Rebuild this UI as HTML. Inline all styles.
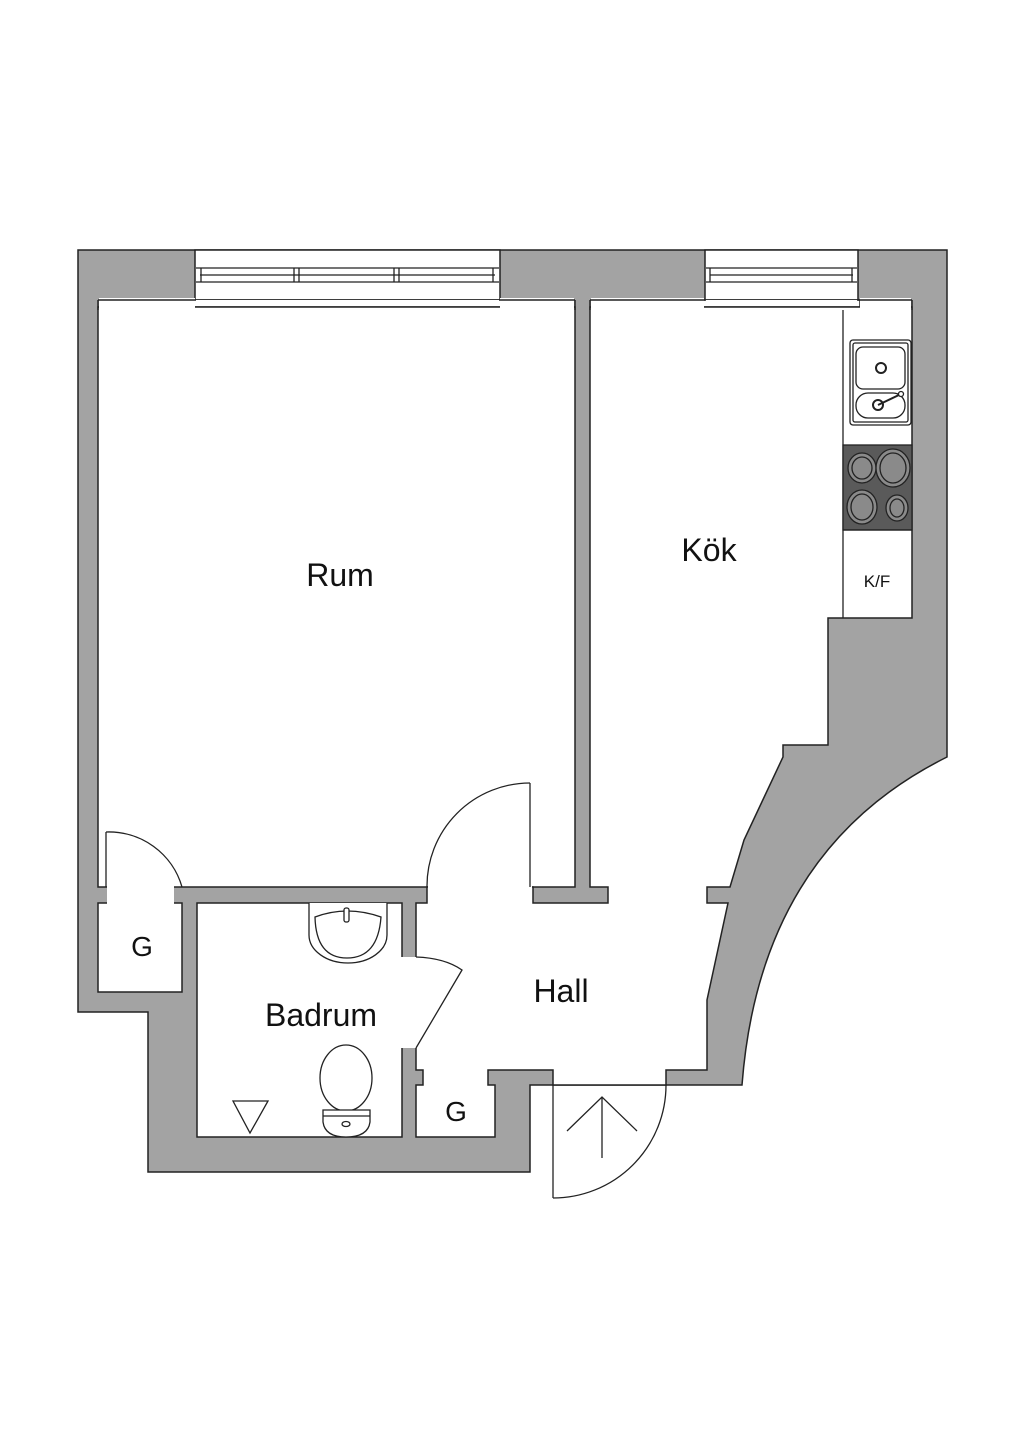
<!DOCTYPE html>
<html><head><meta charset="utf-8"><style>
html,body{margin:0;padding:0;background:#fff;}
svg{display:block;}
text{font-family:"Liberation Sans",sans-serif;fill:#111;}
</style></head><body>
<svg width="1024" height="1449" viewBox="0 0 1024 1449" xmlns="http://www.w3.org/2000/svg">
<rect width="1024" height="1449" fill="#fff"/>
<!-- outer gray -->
<path d="M78 250 H947 V757 Q760 850 742 1085 H553 V1085 H530 V1172 H148 V1012 H78 Z" fill="#a3a3a3" stroke="#222" stroke-width="1.5"/>
<!-- windows -->
<g fill="#fff" stroke="#222" stroke-width="1.5">
<rect x="195" y="250" width="305" height="50"/>
<rect x="193" y="300" width="309" height="7"/>
<rect x="705" y="250" width="153" height="50"/>
<rect x="703" y="300" width="157" height="7"/>
</g>
<rect x="196" y="300" width="303" height="3" fill="#fff"/>
<rect x="706" y="300" width="151" height="3" fill="#fff"/>
<g stroke="#222" stroke-width="1.3" fill="none">
<line x1="196" y1="268" x2="499" y2="268"/><line x1="200" y1="275" x2="495" y2="275"/><line x1="196" y1="282" x2="499" y2="282"/>
<line x1="201" y1="268" x2="201" y2="282"/><line x1="294" y1="268" x2="294" y2="282"/><line x1="299" y1="268" x2="299" y2="282"/>
<line x1="394" y1="268" x2="394" y2="282"/><line x1="399" y1="268" x2="399" y2="282"/><line x1="493" y1="268" x2="493" y2="282"/>
<line x1="706" y1="268" x2="857" y2="268"/><line x1="710" y1="275" x2="853" y2="275"/><line x1="706" y1="282" x2="857" y2="282"/>
<line x1="710" y1="268" x2="710" y2="282"/><line x1="852" y1="268" x2="852" y2="282"/>
</g>
<!-- rooms -->
<g fill="#fff" stroke="#222" stroke-width="1.5">
<rect x="98" y="307" width="477" height="580"/>
<rect x="98" y="903" width="84" height="89"/>
<rect x="197" y="903" width="205" height="234"/>
<polygon points="590,307 912,307 912,618 828,618 828,745 783,745 783,757 744,840 730,887 707,887 707,903 728,903 707,1000 707,1070 666,1070 666,1085 553,1085 553,1070 488,1070 488,1085 495,1085 495,1137 416,1137 416,1085 423,1085 423,1070 416,1070 416,903 427,903 427,887 533,887 533,903 608,903 608,887 590,887"/>
</g>
<!-- openings -->
<g fill="#fff">
<rect x="107" y="884" width="67" height="21"/>
<rect x="428" y="884" width="104" height="21"/>
<rect x="400" y="957" width="18" height="91"/>
<rect x="99" y="298" width="96" height="10"/><rect x="500" y="298" width="74" height="10"/>
<rect x="591" y="298" width="113" height="10"/><rect x="860" y="298" width="51" height="10"/>
</g>
<line x1="98" y1="300" x2="195" y2="300" stroke="#222" stroke-width="1.5"/>
<line x1="500" y1="300" x2="575" y2="300" stroke="#222" stroke-width="1.5"/>
<line x1="590" y1="300" x2="705" y2="300" stroke="#222" stroke-width="1.5"/>
<line x1="858" y1="300" x2="912" y2="300" stroke="#222" stroke-width="1.5"/>
<line x1="98" y1="300" x2="98" y2="310" stroke="#222" stroke-width="1.5"/>
<line x1="575" y1="300" x2="575" y2="310" stroke="#222" stroke-width="1.5"/>
<line x1="590" y1="300" x2="590" y2="310" stroke="#222" stroke-width="1.5"/>
<line x1="912" y1="300" x2="912" y2="310" stroke="#222" stroke-width="1.5"/>
<!-- doors -->
<g stroke="#222" stroke-width="1.3" fill="none">
<line x1="106" y1="832" x2="106" y2="887"/>
<path d="M106 832 A76 76 0 0 1 182 887"/>
<line x1="530" y1="783" x2="530" y2="887"/>
<path d="M530 783 A103 103 0 0 0 427 887"/>
<path d="M416 957 Q445 958 462 970 L416 1048"/>
<line x1="553" y1="1085" x2="553" y2="1198"/>
<path d="M553 1198 A113 113 0 0 0 666 1085"/>
<line x1="602" y1="1158" x2="602" y2="1097"/>
<polyline points="567,1131 602,1097 637,1131"/>
</g>
<!-- kitchen -->
<g stroke="#222" stroke-width="1.3">
<line x1="843" y1="310" x2="843" y2="618" fill="none"/>
<rect x="850" y="340" width="61" height="85" rx="3" fill="#fff"/>
<rect x="853" y="343" width="55" height="79" rx="2" fill="none"/>
<rect x="856" y="347" width="49" height="42" rx="7" fill="#fff"/>
<rect x="856" y="393" width="49" height="25" rx="12" fill="#fff"/>
<circle cx="881" cy="368" r="5" fill="#fff" stroke-width="2"/>
<circle cx="878" cy="405" r="5" fill="#fff" stroke-width="2"/>
<line x1="878" y1="405" x2="901" y2="394" stroke-width="2"/>
<circle cx="901" cy="394" r="2.5" fill="#fff"/>
<rect x="843" y="445" width="69" height="85" fill="#5a5a5a"/>
<g fill="#8a8a8a">
<ellipse cx="862" cy="468" rx="14" ry="15"/><ellipse cx="862" cy="468" rx="10" ry="11"/>
<ellipse cx="893" cy="468" rx="17" ry="19"/><ellipse cx="893" cy="468" rx="13" ry="15"/>
<ellipse cx="862" cy="507" rx="15" ry="17"/><ellipse cx="862" cy="507" rx="11" ry="13"/>
<ellipse cx="897" cy="508" rx="11" ry="13"/><ellipse cx="897" cy="508" rx="7" ry="9"/>
</g>
<line x1="843" y1="530" x2="912" y2="530"/>
</g>
<!-- bathroom fixtures -->
<g stroke="#222" stroke-width="1.3" fill="#fff">
<path d="M309 903 V935 A39 28 0 0 0 387 935 V903" />
<path d="M315 917 Q347 905 381 917 Q378 958 347 958 Q316 958 315 917 Z"/>
<rect x="344" y="908" width="5" height="14" rx="2"/>
<ellipse cx="346" cy="1078" rx="26" ry="33"/>
<path d="M323 1110 H370 V1122 Q368 1137 346 1137 Q325 1137 323 1122 Z"/>
<line x1="323" y1="1116" x2="370" y2="1116"/>
<ellipse cx="346" cy="1124" rx="4" ry="2.5"/>
<polygon points="233,1101 268,1101 250,1133" fill="none"/>
</g>
<!-- labels -->
<text x="340" y="586" font-size="32" text-anchor="middle">Rum</text>
<text x="709" y="561" font-size="32" text-anchor="middle">Kök</text>
<text x="877" y="587" font-size="17" text-anchor="middle">K/F</text>
<text x="142" y="956" font-size="28" text-anchor="middle">G</text>
<text x="561" y="1002" font-size="32" text-anchor="middle">Hall</text>
<text x="321" y="1026" font-size="32" text-anchor="middle">Badrum</text>
<text x="456" y="1121" font-size="28" text-anchor="middle">G</text>
</svg>
</body></html>
